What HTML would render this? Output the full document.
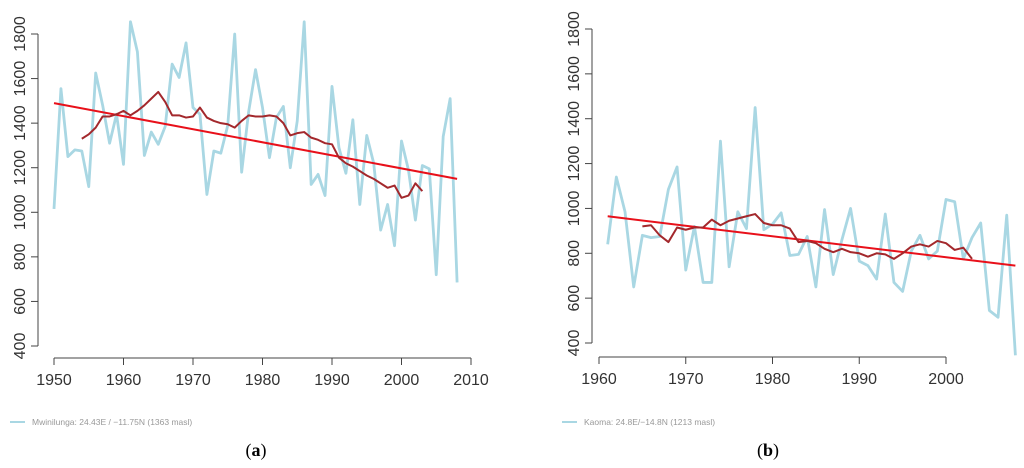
<!DOCTYPE html>
<html><head><meta charset="utf-8"><style>
html,body{margin:0;padding:0;background:#fff;width:1024px;height:468px;overflow:hidden;font-family:"Liberation Sans",sans-serif}
svg{position:absolute;left:0;top:0}
</style></head><body>
<svg id="c" width="1024" height="468"></svg>
<script>
const yearsA=[1950,1951,1952,1953,1954,1955,1956,1957,1958,1959,1960,1961,1962,1963,1964,1965,1966,1967,1968,1969,1970,1971,1972,1973,1974,1975,1976,1977,1978,1979,1980,1981,1982,1983,1984,1985,1986,1987,1988,1989,1990,1991,1992,1993,1994,1995,1996,1997,1998,1999,2000,2001,2002,2003,2004,2005,2006,2007,2008];
const rainA=[1015,1555,1250,1280,1275,1115,1625,1480,1310,1440,1215,1855,1720,1255,1360,1305,1385,1665,1605,1760,1470,1440,1080,1275,1265,1390,1800,1180,1450,1640,1470,1245,1425,1475,1200,1410,1855,1125,1170,1075,1565,1290,1175,1415,1035,1345,1220,920,1035,850,1320,1190,965,1210,1195,720,1340,1510,685];
const maStartA=1954;
const maA=[1330,1350,1380,1430,1430,1440,1455,1435,1455,1480,1510,1540,1495,1435,1435,1425,1430,1470,1425,1410,1400,1395,1380,1410,1435,1430,1430,1435,1430,1400,1345,1355,1360,1335,1325,1310,1305,1245,1220,1205,1185,1165,1150,1130,1110,1120,1065,1075,1130,1095];
const trendA=[[1950,1490],[2008,1150]];
const xTicksA=[1950,1960,1970,1980,1990,2000,2010];
const yearsB=[1961,1962,1963,1964,1965,1966,1967,1968,1969,1970,1971,1972,1973,1974,1975,1976,1977,1978,1979,1980,1981,1982,1983,1984,1985,1986,1987,1988,1989,1990,1991,1992,1993,1994,1995,1996,1997,1998,1999,2000,2001,2002,2003,2004,2005,2006,2007,2008];
const rainB=[840,1140,985,650,880,870,875,1085,1185,725,920,670,670,1300,740,985,910,1450,905,930,980,790,795,875,650,995,705,860,1000,765,745,685,975,670,630,810,880,775,810,1040,1030,775,870,935,545,515,970,345];
const maStartB=1965;
const maB=[920,925,880,850,915,905,915,915,950,925,945,955,965,975,935,925,925,910,850,855,845,820,805,820,805,800,785,800,795,775,800,830,840,830,855,845,815,825,775];
const trendB=[[1961,965],[2008,745]];
const xTicksB=[1960,1970,1980,1990,2000];
const yTicks=[400,600,800,1000,1200,1400,1600,1800];

const svg=document.getElementById('c');
const NS='http://www.w3.org/2000/svg';
function mk(tag,attrs,parent){const e=document.createElementNS(NS,tag);for(const k in attrs)e.setAttribute(k,attrs[k]);(parent||svg).appendChild(e);return e;}

function panel(p){
  const g=mk('g',{});
  
  
  const X=v=>p.x0+(v-p.xa)*(p.x1-p.x0)/(p.xb-p.xa);
  const Y=v=>p.y0+(v-400)*(p.y1-p.y0)/1400;
  const txtStyle={fill:'#333','font-size':'16','font-family':'Liberation Sans, sans-serif'};
  const ya=mk('line',{x1:p.yax,x2:p.yax,y1:Y(400),y2:Y(1800),stroke:'#444','stroke-width':1},g);
  
  yTicks.forEach(t=>{
    mk('line',{x1:p.yax-7,x2:p.yax,y1:Y(t),y2:Y(t),stroke:'#444'},g);
    const tx=mk('text',Object.assign({x:0,y:0,'text-anchor':'middle',transform:`translate(${p.yax-13},${Y(t)}) rotate(-90)`},txtStyle),g);
    tx.textContent=t;
    
  });
  const xt=p.xticks;
  const xa=mk('line',{x1:X(xt[0]),x2:X(xt[xt.length-1]),y1:p.xay,y2:p.xay,stroke:'#444'},g);
  
  xt.forEach(t=>{
    mk('line',{x1:X(t),x2:X(t),y1:p.xay,y2:p.xay+7,stroke:'#444'},g);
    const tx=mk('text',Object.assign({x:X(t),y:p.xay+27,'text-anchor':'middle'},txtStyle),g);
    tx.textContent=t;
    
  });
  const rl=mk('polyline',{points:p.years.map((y,i)=>X(y)+','+Y(p.rain[i])).join(' '),fill:'none',stroke:'#a9d7e3','stroke-width':2.8,'stroke-linejoin':'round'},g);
  
  const tl=mk('line',{x1:X(p.trend[0][0]),y1:Y(p.trend[0][1]),x2:X(p.trend[1][0]),y2:Y(p.trend[1][1]),stroke:'#e8101a','stroke-width':2},g);
  
  const ml=mk('polyline',{points:p.ma.map((v,i)=>X(p.maStart+i)+','+Y(v)).join(' '),fill:'none',stroke:'#a3282c','stroke-width':2,'stroke-linejoin':'round'},g);
  
  const lg=mk('g',{},g);
  
  mk('line',{x1:p.lx,x2:p.lx+15,y1:422,y2:422,stroke:'#a9d7e3','stroke-width':2},lg);
  const lt=mk('text',{x:p.lx+22,y:425,fill:'#999','font-size':'8.5','font-family':'Liberation Sans, sans-serif'},lg);
  lt.textContent=p.legend;
  const cap=mk('text',{x:p.capx,y:456,'text-anchor':'middle','font-size':'18','font-family':'Liberation Serif, serif',fill:'#000'},g);
  cap.innerHTML='(<tspan font-weight="bold">'+p.cap+'</tspan>)';
  
}
panel({name:'panel-a-mwinilunga',x0:54,x1:471,xa:1950,xb:2010,y0:346,y1:34,yax:38,xay:358,xticks:xTicksA,years:yearsA,rain:rainA,ma:maA,maStart:maStartA,trend:trendA,lx:10,legend:'Mwinilunga: 24.43E / \u221211.75N (1363 masl)',capx:256,cap:'a'});
panel({name:'panel-b-kaoma',x0:599,x1:946,xa:1960,xb:2000,y0:343,y1:29,yax:592,xay:357,xticks:xTicksB,years:yearsB,rain:rainB,ma:maB,maStart:maStartB,trend:trendB,lx:562,legend:'Kaoma: 24.8E/\u221214.8N (1213 masl)',capx:768,cap:'b'});
</script>
</body></html>
